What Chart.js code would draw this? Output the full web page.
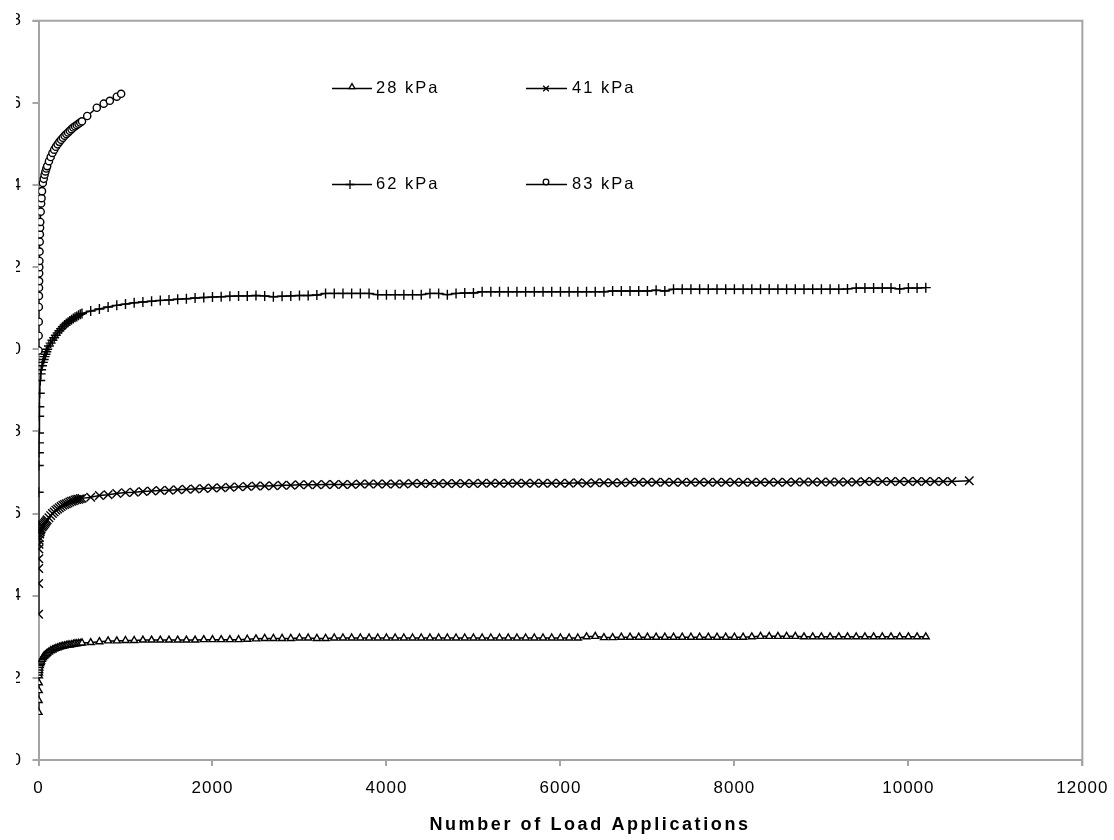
<!DOCTYPE html>
<html><head><meta charset="utf-8">
<script src="https://cdn.jsdelivr.net/npm/chart.js@4/dist/chart.umd.min.js"></script>
<style>
html,body{margin:0;padding:0;background:#fff;width:1114px;height:840px;overflow:hidden}
#wrap{position:absolute;left:16px;top:0;width:1098px;height:840px;overflow:hidden;background:#fff}
#box{position:absolute;left:-14px;top:0;width:1116px;height:840px}
</style></head><body>
<div id="wrap"><div id="box"><canvas id="c"></canvas></div></div>
<script>
// ---- data ----
const earlyLoads = [1,2,3,4,5,6,8,10,15,20,25,30,40,50,60,70,80,90,100,120,140,160,180,200,220,240,260,280,300,320,340,360,380,400,420,440,460,480,500];
const lateLoads = [600,700,800,900,1000,1100,1200,1300,1400,1500,1600,1700,1800,1900,2000,2100,2200,2300,2400,2500,2600,2700,2800,2900,3000,3100,3200,3300,3400,3500,3600,3700,3800,3900,4000,4100,4200,4300,4400,4500,4600,4700,4800,4900,5000,5100,5200,5300,5400,5500,5600,5700,5800,5900,6000,6100,6200,6300,6400,6500,6600,6700,6800,6900,7000,7100,7200,7300,7400,7500,7600,7700,7800,7900,8000,8100,8200,8300,8400,8500,8600,8700,8800,8900,9000,9100,9200,9300,9400,9500,9600,9700,9800,9900,10000,10100,10200];
const extraLoads41 = [10300,10400,10500,10700];
const loads83 = [1,2,3,4,5,6,7,8,9,10,12,14,16,18,20,25,30,35,40,50,60,70,80,90,100,120,140,160,180,200,220,240,260,280,300,320,340,360,380,400,420,440,460,480,500,560,670,750,820,900,950];

const early28 = [1.16,1.45,1.69,1.88,2.05,2.12,2.18,2.24,2.30,2.35,2.38,2.41,2.45,2.49,2.52,2.54,2.56,2.58,2.60,2.63,2.66,2.68,2.70,2.72,2.73,2.75,2.76,2.77,2.78,2.79,2.80,2.80,2.81,2.82,2.83,2.83,2.84,2.84,2.85];
const late28 = [2.86,2.88,2.90,2.90,2.91,2.91,2.92,2.92,2.92,2.92,
 2.92,2.92,2.92,2.93,2.93,2.93,2.93,2.93,2.94,2.95,
 2.96,2.96,2.96,2.96,2.97,2.97,2.96,2.96,2.97,2.97,
 2.97,2.97,2.97,2.97,2.97,2.97,2.97,2.97,2.97,2.97,
 2.97,2.97,2.97,2.97,2.97,2.97,2.97,2.97,2.97,2.97,
 2.97,2.97,2.97,2.97,2.97,2.97,2.97,3.00,3.01,2.98,
 2.98,2.99,2.99,2.99,2.99,2.99,2.99,2.99,2.99,2.99,
 2.99,2.99,2.99,2.99,2.99,2.99,3.00,3.01,3.01,3.01,
 3.01,3.01,3.00,3.00,3.00,3.00,3.00,3.00,3.00,3.00,
 3.00,3.00,3.00,3.00,3.00,3.00,3.00];

const early41 = [3.55,4.30,4.66,4.90,5.14,5.25,5.35,5.42,5.50,5.56,5.60,5.63,5.67,5.70,5.73,5.76,5.79,5.82,5.85,5.90,5.95,6.00,6.04,6.08,6.11,6.14,6.17,6.20,6.22,6.24,6.26,6.28,6.30,6.31,6.33,6.34,6.35,6.36,6.37];
const late41 = [6.40,6.44,6.46,6.49,6.51,6.52,6.54,6.55,6.56,6.57,
 6.58,6.59,6.60,6.61,6.62,6.63,6.64,6.65,6.66,6.67,
 6.67,6.68,6.69,6.69,6.70,6.70,6.70,6.71,6.71,6.71,
 6.71,6.72,6.72,6.72,6.72,6.72,6.72,6.73,6.73,6.73,
 6.73,6.73,6.73,6.73,6.73,6.74,6.74,6.74,6.74,6.74,
 6.74,6.74,6.74,6.74,6.74,6.74,6.75,6.74,6.75,6.75,
 6.75,6.75,6.76,6.76,6.76,6.76,6.76,6.76,6.76,6.76,
 6.76,6.76,6.76,6.76,6.76,6.76,6.76,6.76,6.76,6.76,
 6.76,6.77,6.77,6.77,6.77,6.77,6.77,6.77,6.77,6.78,
 6.78,6.78,6.78,6.78,6.78,6.78,6.78];
const extra41 = [6.78,6.78,6.78,6.80];

const early62 = [5.72,6.52,7.17,7.48,7.72,7.96,8.37,8.60,8.93,9.24,9.40,9.50,9.60,9.68,9.75,9.82,9.88,9.94,10.00,10.08,10.15,10.22,10.28,10.34,10.40,10.45,10.50,10.55,10.59,10.63,10.66,10.69,10.72,10.75,10.78,10.80,10.83,10.85,10.87];
const late62 = [10.93,10.98,11.03,11.07,11.10,11.13,11.15,11.17,11.19,11.20,
 11.22,11.23,11.25,11.26,11.27,11.28,11.29,11.30,11.30,11.31,
 11.30,11.28,11.29,11.30,11.31,11.31,11.32,11.36,11.36,11.36,
 11.36,11.36,11.36,11.33,11.33,11.33,11.33,11.33,11.33,11.36,
 11.36,11.33,11.36,11.37,11.37,11.40,11.40,11.40,11.40,11.40,
 11.40,11.40,11.40,11.40,11.40,11.40,11.40,11.40,11.40,11.40,
 11.42,11.42,11.42,11.42,11.42,11.44,11.42,11.46,11.46,11.46,
 11.46,11.46,11.46,11.46,11.46,11.46,11.46,11.46,11.46,11.46,
 11.46,11.46,11.46,11.46,11.46,11.46,11.46,11.47,11.49,11.49,
 11.49,11.49,11.49,11.47,11.49,11.49,11.50];

const vals83 = [9.97,10.33,10.67,11.03,11.30,11.50,11.66,11.85,12.00,12.15,
 12.38,12.62,12.80,12.96,13.10,13.35,13.55,13.68,13.85,
 14.05,14.15,14.25,14.33,14.40,14.46,
 14.58,14.68,14.78,14.86,14.93,14.99,15.05,15.10,15.15,15.20,15.24,15.28,15.32,15.36,15.40,15.43,15.46,15.49,15.52,15.55,
 15.68,15.88,15.98,16.05,16.15,16.22];

const seriesNames = ['28 kPa','41 kPa','62 kPa','83 kPa'];
const xTicks = [0,2000,4000,6000,8000,10000,12000];
const yTicks = [0,2,4,6,8,10,12,14,16,18];
const xTitle = 'Number of Load Applications';

// ---- build ----
function pts(xs, ys){ return xs.map((x,i)=>({x:x,y:ys[i]})); }
const d28 = pts(earlyLoads.concat(lateLoads), early28.concat(late28));
const d41 = pts(earlyLoads.concat(lateLoads, extraLoads41), early41.concat(late41, extra41));
const d62 = pts(earlyLoads.concat(lateLoads), early62.concat(late62));
const d83 = pts(loads83, vals83);

const FONT = "'Liberation Sans', Arial, sans-serif";
const axisGray = '#a4a4a4';

function ds(label, data, style, radius, bg){
  return {label, data, showLine:true, borderColor:'#000', borderWidth:1.5,
    pointStyle:style, pointRadius:radius, pointBorderColor:'#000', pointBorderWidth:1.4,
    pointBackgroundColor:bg, pointHoverRadius:radius, tension:0, fill:false};
}

const legendPos = [
  {ds:0, x1:330, x2:370, mx:350, y:88, tx:374, r:3.4},
  {ds:1, x1:524, x2:565, mx:544, y:88, tx:570, r:4},
  {ds:2, x1:330, x2:370, mx:348, y:184, tx:374, r:4.5},
  {ds:3, x1:524, x2:565, mx:544, y:184, tx:570, r:2.8}
];

const decor = {
  id:'decor',
  beforeDraw(chart){ chart.ctx.letterSpacing = '1px'; },
  afterDraw(chart){
    const ctx = chart.ctx, a = chart.chartArea;
    ctx.save();
    ctx.letterSpacing = '0px';
    ctx.strokeStyle = axisGray; ctx.lineWidth = 2;
    ctx.beginPath();
    ctx.moveTo(a.left-6, a.top); ctx.lineTo(a.right, a.top); ctx.lineTo(a.right, a.bottom+6);
    ctx.stroke();
    ctx.font = "16.5px " + FONT;
    ctx.textBaseline = 'middle';
    ctx.textAlign = 'left';
    legendPos.forEach(p=>{
      const d = chart.data.datasets[p.ds];
      ctx.strokeStyle = '#000'; ctx.lineWidth = 1.3;
      ctx.beginPath(); ctx.moveTo(p.x1, p.y+0.5); ctx.lineTo(p.x2, p.y+0.5); ctx.stroke();
      ctx.fillStyle = d.pointBackgroundColor;
      ctx.strokeStyle = '#000';
      let my = p.y + 0.5;
      if (p.ds === 3) my = p.y - 2;
      if (p.ds === 0) my = p.y - 1;
      Chart.helpers.drawPoint(ctx, {pointStyle:d.pointStyle, rotation:0, radius:p.r, borderWidth:1.2}, p.mx, my);
      ctx.fillStyle = '#000';
      ctx.letterSpacing = '2px';
      ctx.fillText(seriesNames[p.ds], p.tx, p.y+0.5);
      ctx.letterSpacing = '0px';
    });
    ctx.font = "bold 18px " + FONT;
    ctx.letterSpacing = '2.6px';
    ctx.textAlign = 'center';
    ctx.fillStyle = '#000';
    ctx.fillText(xTitle, 588, 825);
    ctx.restore();
    ctx.letterSpacing = '0px';
  }
};

new Chart(document.getElementById('c'), {
  type:'scatter',
  data:{ datasets:[
    ds(seriesNames[0], d28, 'triangle', 4, '#fff'),
    ds(seriesNames[1], d41, 'crossRot', 6, '#fff'),
    ds(seriesNames[2], d62, 'cross', 5, '#fff'),
    ds(seriesNames[3], d83, 'circle', 3.6, '#fff')
  ]},
  options:{
    responsive:true, maintainAspectRatio:false, animation:false,
    layout:{padding:{left:0, right:32, top:14, bottom:0}},
    plugins:{legend:{display:false}, tooltip:{enabled:false}, title:{display:false}},
    scales:{
      x:{type:'linear', min:0, max:12000,
        afterBuildTicks(s){ s.ticks = xTicks.map(v=>({value:v})); },
        afterFit(s){ s.height = 80; },
        grid:{drawOnChartArea:false, drawTicks:true, tickLength:6, color:axisGray, lineWidth:2},
        border:{display:true, color:axisGray, width:2},
        ticks:{color:'#000', font:{family:FONT, size:17}, padding:12, maxRotation:0, autoSkip:false,
          callback:(v)=>String(v)}
      },
      y:{type:'linear', min:0, max:18,
        afterBuildTicks(s){ s.ticks = yTicks.map(v=>({value:v})); },
        afterFit(s){ s.width = 36.5; },
        grid:{drawOnChartArea:false, drawTicks:true, tickLength:6, color:axisGray, lineWidth:2},
        border:{display:true, color:axisGray, width:2},
        ticks:{color:'#000', font:{family:FONT, size:17}, padding:10.5, autoSkip:false,
          callback:(v)=>String(v)}
      }
    }
  },
  plugins:[decor]
});
</script></body></html>
